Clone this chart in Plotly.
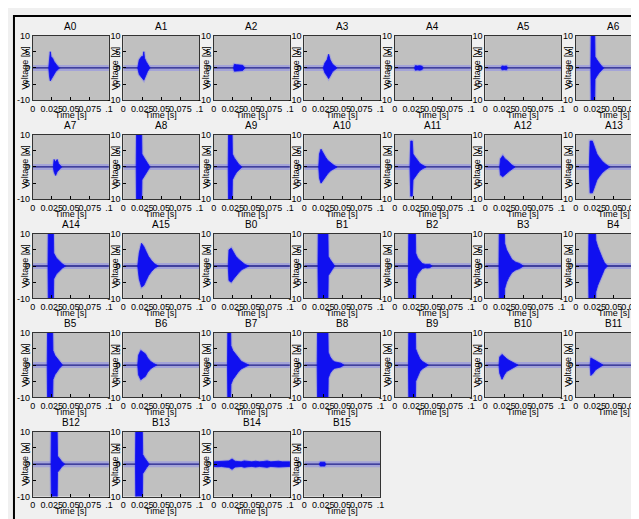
import plotly.graph_objects as go

# ---------------- data ----------------
PANELS = ["A0", "A1", "A2", "A3", "A4", "A5", "A6",
          "A7", "A8", "A9", "A10", "A11", "A12", "A13",
          "A14", "A15", "B0", "B1", "B2", "B3", "B4",
          "B5", "B6", "B7", "B8", "B9", "B10", "B11",
          "B12", "B13", "B14", "B15"]

TIME_RANGE = [0.0, 0.1]
BASELINE = [0.0, 0.0]

X_TICKS = [0, 0.025, 0.05, 0.075, 0.1]
X_TICK_LABELS = ["0", "0.025", "0.05", "0.075", ".1"]
Y_TICKS = [-10, -5, 0, 5, 10]
Y_TICK_LABELS = ["-10", "-5", "0", "5", "10"]

# burst envelopes: time [s], upper amplitude [V], lower amplitude [V]
ENV_TIME = {
    "A0": [0.021, 0.022, 0.023, 0.024, 0.026, 0.028, 0.030, 0.032, 0.035],
    "A1": [0.019, 0.021, 0.024, 0.026, 0.027, 0.028, 0.030, 0.032, 0.035],
    "A2": [0.026, 0.027, 0.030, 0.034, 0.038, 0.041],
    "A3": [0.025, 0.027, 0.030, 0.032, 0.034, 0.037, 0.040, 0.043],
    "A4": [0.026, 0.027, 0.030, 0.033, 0.036, 0.037],
    "A5": [0.021, 0.022, 0.025, 0.028, 0.029],
    "A6": [0.020, 0.0205, 0.025, 0.0255, 0.028, 0.031, 0.034, 0.037],
    "A7": [0.027, 0.028, 0.030, 0.032, 0.034, 0.036, 0.038],
    "A8": [0.017, 0.0175, 0.024, 0.0245, 0.027, 0.030, 0.033, 0.035],
    "A9": [0.019, 0.0195, 0.024, 0.0245, 0.027, 0.030, 0.033, 0.037],
    "A10": [0.019, 0.020, 0.022, 0.025, 0.028, 0.031, 0.035, 0.039, 0.043],
    "A11": [0.020, 0.021, 0.023, 0.024, 0.027, 0.030, 0.033, 0.037, 0.041],
    "A12": [0.019, 0.020, 0.023, 0.026, 0.029, 0.032, 0.035, 0.039],
    "A13": [0.018, 0.019, 0.022, 0.025, 0.028, 0.031, 0.035, 0.040, 0.045],
    "A14": [0.020, 0.0205, 0.027, 0.0275, 0.031, 0.035, 0.039, 0.043],
    "A15": [0.019, 0.021, 0.024, 0.027, 0.030, 0.033, 0.037, 0.041, 0.046],
    "B0": [0.019, 0.020, 0.023, 0.026, 0.029, 0.033, 0.037, 0.041, 0.046],
    "B1": [0.018, 0.0185, 0.031, 0.0315, 0.034, 0.037, 0.040],
    "B2": [0.018, 0.0185, 0.027, 0.0275, 0.030, 0.033, 0.036, 0.040, 0.043, 0.046, 0.049],
    "B3": [0.018, 0.0185, 0.025, 0.0255, 0.028, 0.031, 0.035, 0.040, 0.045, 0.050],
    "B4": [0.017, 0.0175, 0.026, 0.0265, 0.029, 0.032, 0.035, 0.038, 0.042],
    "B5": [0.019, 0.0195, 0.026, 0.0265, 0.029, 0.032, 0.035, 0.039],
    "B6": [0.019, 0.020, 0.023, 0.026, 0.029, 0.032, 0.036, 0.040, 0.044],
    "B7": [0.018, 0.0185, 0.022, 0.0225, 0.025, 0.028, 0.032, 0.036, 0.041, 0.046],
    "B8": [0.017, 0.0175, 0.031, 0.0315, 0.034, 0.037, 0.040, 0.044, 0.048, 0.052],
    "B9": [0.018, 0.0185, 0.027, 0.0275, 0.030, 0.033, 0.036, 0.040, 0.044],
    "B10": [0.018, 0.019, 0.022, 0.025, 0.028, 0.031, 0.035, 0.039, 0.043],
    "B11": [0.019, 0.020, 0.023, 0.026, 0.029, 0.032, 0.036],
    "B12": [0.024, 0.0245, 0.032, 0.0325, 0.035, 0.038, 0.042],
    "B13": [0.016, 0.0165, 0.025, 0.0255, 0.028, 0.031, 0.034],
    "B14": [0.0, 0.005, 0.010, 0.015, 0.020, 0.024, 0.028, 0.032, 0.036, 0.040, 0.045,
            0.050, 0.055, 0.060, 0.065, 0.070, 0.075, 0.080, 0.085, 0.090, 0.095, 0.1],
    "B15": [0.020, 0.021, 0.024, 0.027, 0.028],
}
ENV_UPPER = {
    "A0": [0, 3, 5, 3.5, 3, 2, 1.3, 0.7, 0],
    "A1": [0, 2.5, 3.5, 3.5, 5, 3, 2, 1, 0],
    "A2": [0, 1.1, 1.0, 1.0, 0.8, 0],
    "A3": [0, 1.5, 2.5, 4.2, 2.5, 1.2, 0.6, 0],
    "A4": [0, 0.7, 0.6, 0.7, 0.5, 0],
    "A5": [0, 0.6, 0.5, 0.6, 0],
    "A6": [0, 12, 12, 3.5, 2.5, 1.5, 0.6, 0],
    "A7": [0, 2.3, 1.5, 2.3, 1.0, 0.5, 0],
    "A8": [0, 12, 12, 4, 3, 1.8, 0.8, 0],
    "A9": [0, 12, 12, 4, 2.8, 1.6, 0.8, 0],
    "A10": [0, 4, 5.5, 4, 3, 2, 1.1, 0.5, 0],
    "A11": [0, 8, 8, 4, 3, 2, 1.1, 0.5, 0],
    "A12": [0, 2.5, 3.5, 2.5, 2, 1.2, 0.6, 0],
    "A13": [0, 8, 8, 6, 4, 3, 1.8, 0.8, 0],
    "A14": [0, 12, 12, 4, 2.5, 1.5, 0.6, 0],
    "A15": [0, 4, 7, 6, 4.5, 3, 1.7, 0.7, 0],
    "B0": [0, 5, 5.5, 4, 3, 2, 1.1, 0.5, 0],
    "B1": [0, 12, 12, 3, 2, 1, 0],
    "B2": [0, 12, 12, 4, 2.5, 1.5, 0.8, 0.5, 0.6, 0.5, 0],
    "B3": [0, 12, 12, 7, 5, 3.5, 2, 1.2, 0.8, 0],
    "B4": [0, 12, 12, 8, 6, 4, 2.5, 1, 0],
    "B5": [0, 12, 12, 4.5, 3, 2, 1, 0],
    "B6": [0, 3, 4.5, 4, 3.5, 2.2, 1.1, 0.5, 0],
    "B7": [0, 12, 12, 6, 4.5, 3.5, 2.2, 1.2, 0.6, 0],
    "B8": [0, 12, 12, 4, 2.5, 1.5, 1, 0.8, 0.6, 0],
    "B9": [0, 12, 12, 5, 3.5, 2, 1.2, 0.6, 0],
    "B10": [0, 2.5, 3.3, 2.5, 2, 1.5, 0.9, 0.5, 0],
    "B11": [0, 2.2, 1.8, 1.5, 1.0, 0.6, 0],
    "B12": [0, 12, 12, 2.5, 1.8, 0.8, 0],
    "B13": [0, 12, 12, 3, 2, 1, 0],
    "B14": [0.7, 0.8, 0.7, 0.9, 1.0, 1.6, 0.9, 0.8, 0.7, 1.0, 0.8,
            0.7, 0.9, 0.7, 0.8, 1.0, 0.7, 0.8, 0.9, 0.7, 0.8, 0.7],
    "B15": [0, 0.6, 0.6, 0.6, 0],
}
ENV_LOWER = {
    "A0": [0, -2.5, -4, -3.5, -3, -2, -1.2, -0.6, 0],
    "A1": [0, -2, -3, -3.5, -3.8, -3, -2, -1, 0],
    "A2": [0, -1.0, -1.0, -0.9, -0.8, 0],
    "A3": [0, -1.5, -2.5, -3.3, -2.5, -1.2, -0.6, 0],
    "A4": [0, -0.7, -0.6, -0.7, -0.5, 0],
    "A5": [0, -0.6, -0.5, -0.6, 0],
    "A6": [0, -12, -12, -3.5, -2.5, -1.5, -0.6, 0],
    "A7": [0, -1.5, -2.6, -1.5, -1.0, -0.5, 0],
    "A8": [0, -12, -12, -4, -3, -1.8, -0.8, 0],
    "A9": [0, -12, -12, -4, -2.8, -1.6, -0.8, 0],
    "A10": [0, -3.5, -5, -4, -3, -2, -1.1, -0.5, 0],
    "A11": [0, -9, -9, -4, -3, -2, -1.1, -0.5, 0],
    "A12": [0, -2.5, -3.0, -2.5, -1.8, -1.2, -0.6, 0],
    "A13": [0, -8, -8, -6, -4, -3, -1.8, -0.8, 0],
    "A14": [0, -12, -12, -4, -2.5, -1.5, -0.6, 0],
    "A15": [0, -4, -6.5, -6, -4.5, -3, -1.7, -0.7, 0],
    "B0": [0, -4.5, -5, -4, -3, -2, -1.1, -0.5, 0],
    "B1": [0, -12, -12, -3, -2, -1, 0],
    "B2": [0, -12, -12, -4, -2.5, -1.5, -0.8, -0.5, -0.6, -0.5, 0],
    "B3": [0, -12, -12, -7, -5, -3.5, -2, -1.2, -0.8, 0],
    "B4": [0, -12, -12, -8, -6, -4, -2.5, -1, 0],
    "B5": [0, -12, -12, -4.5, -3, -2, -1, 0],
    "B6": [0, -3, -4.5, -4, -3.5, -2.2, -1.1, -0.5, 0],
    "B7": [0, -12, -12, -6, -4.5, -3.5, -2.2, -1.2, -0.6, 0],
    "B8": [0, -12, -12, -4, -2.5, -1.5, -1, -0.8, -0.6, 0],
    "B9": [0, -12, -12, -5, -3.5, -2, -1.2, -0.6, 0],
    "B10": [0, -2.5, -4.4, -3, -2, -1.5, -0.9, -0.5, 0],
    "B11": [0, -3.2, -2.5, -1.5, -1.0, -0.6, 0],
    "B12": [0, -12, -12, -2.5, -1.8, -0.8, 0],
    "B13": [0, -12, -12, -3, -2, -1, 0],
    "B14": [-0.7, -0.8, -0.7, -0.9, -1.0, -1.6, -0.9, -0.8, -0.7, -1.0, -0.8,
            -0.7, -0.9, -0.7, -0.8, -1.0, -0.7, -0.8, -0.9, -0.7, -0.8, -0.7],
    "B15": [0, -0.6, -0.6, -0.6, 0],
}

# ---------------- layout geometry (pixels) ----------------
W, H = 639, 519
NCOLS = 7
BOX_W, BOX_H = 77, 66
COL_PITCH, ROW_PITCH = 91.5, 101
LEFT0, TOP0 = 22, 23
FONT = "Liberation Sans, Arial, sans-serif"

fig = go.Figure()
layout = dict(
    width=W, height=H,
    margin=dict(l=0, r=0, t=0, b=0),
    paper_bgcolor="#f0f0f0",
    plot_bgcolor="#c0c0c0",
    showlegend=False,
    font=dict(family=FONT, size=9, color="#000000"),
)
annotations = []

for i, name in enumerate(PANELS):
    r, c = divmod(i, NCOLS)
    x0 = LEFT0 + COL_PITCH * c
    x1 = x0 + BOX_W
    y0 = TOP0 + ROW_PITCH * r
    y1 = y0 + BOX_H
    xmax = TIME_RANGE[1]
    if x1 > W:  # last column is cut by the window edge
        xmax = TIME_RANGE[1] * (W + 0.5 - x0) / BOX_W
        x1 = W
    k = "" if i == 0 else str(i + 1)
    xa, ya = "x" + k, "y" + k

    t = ENV_TIME[name]
    up = ENV_UPPER[name]
    lo = ENV_LOWER[name]
    poly_x = t + t[::-1]
    poly_y = up + lo[::-1]

    # soft halo of the trace
    fig.add_trace(go.Scatter(x=TIME_RANGE, y=BASELINE, mode="lines",
                             line=dict(color="rgba(140,140,235,0.55)", width=6),
                             xaxis=xa, yaxis=ya, hoverinfo="skip"))
    fig.add_trace(go.Scatter(x=poly_x, y=poly_y, mode="lines",
                             line=dict(color="rgba(130,130,240,0.45)", width=3),
                             xaxis=xa, yaxis=ya, hoverinfo="skip"))
    # baseline
    fig.add_trace(go.Scatter(x=TIME_RANGE, y=BASELINE, mode="lines",
                             line=dict(color="#20208a", width=1.3),
                             xaxis=xa, yaxis=ya, hoverinfo="skip"))
    # burst
    fig.add_trace(go.Scatter(x=poly_x, y=poly_y, mode="lines", fill="toself",
                             fillcolor="#1010f0",
                             line=dict(color="#1010f0", width=0.8),
                             xaxis=xa, yaxis=ya, hoverinfo="skip"))

    common = dict(showgrid=False, zeroline=False, showline=True, mirror=True,
                  linecolor="#333333", linewidth=1, ticks="inside", ticklen=3,
                  tickcolor="#000000", tickangle=0, fixedrange=True,
                  tickfont=dict(family=FONT, size=9, color="#000000"))
    layout["xaxis" + k] = dict(domain=[x0 / W, x1 / W], range=[TIME_RANGE[0], xmax],
                               anchor=ya, tickvals=X_TICKS, ticktext=X_TICK_LABELS,
                               **common)
    layout["yaxis" + k] = dict(domain=[1 - y1 / H, 1 - y0 / H], range=[-10, 10],
                               anchor=xa, tickvals=Y_TICKS, ticktext=Y_TICK_LABELS,
                               **common)

    xc = (LEFT0 + COL_PITCH * c + BOX_W / 2) / W
    annotations.append(dict(text=name, x=xc, y=1 - (y0 - 9) / H,
                            xref="paper", yref="paper",
                            showarrow=False, xanchor="center", yanchor="middle",
                            font=dict(family=FONT, size=10, color="#000000")))
    annotations.append(dict(text="Time [s]", x=xc, y=1 - (y1 + 15) / H,
                            xref="paper", yref="paper",
                            showarrow=False, xanchor="center", yanchor="middle",
                            font=dict(family=FONT, size=9, color="#000000")))
    annotations.append(dict(text="Voltage [V]", x=(x0 - 8) / W,
                            y=1 - ((y0 + y1) / 2) / H, xref="paper", yref="paper",
                            showarrow=False, textangle=-90, xanchor="center",
                            yanchor="middle",
                            font=dict(family=FONT, size=9, color="#000000")))

layout["annotations"] = annotations
layout["shapes"] = [dict(type="rect", xref="paper", yref="paper",
                         x0=3 / W, x1=1.05, y0=1 - 517 / H, y1=1 - 3 / H,
                         line=dict(color="#000000", width=2), layer="above")]
fig.update_layout(**layout)
fig.write_html("out.html")
